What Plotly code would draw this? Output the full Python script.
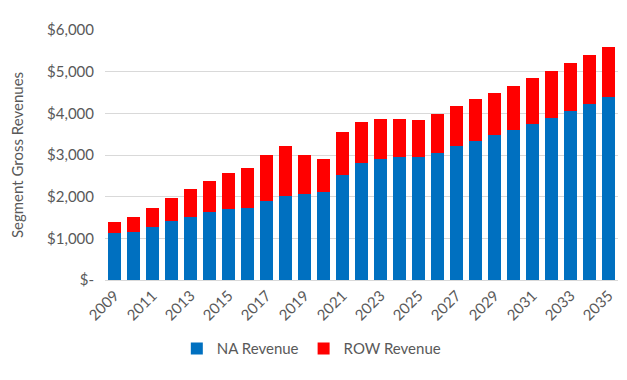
import plotly.graph_objects as go

years = list(range(2009, 2036))
na_revenue = [1118, 1149, 1270, 1422, 1511, 1624, 1704, 1735, 1896, 2024, 2072, 2120, 2523, 2819,
              2908, 2948, 2948, 3053, 3205, 3335, 3470, 3600, 3752, 3896, 4048, 4217, 4395]
total_revenue = [1383, 1511, 1728, 1961, 2178, 2386, 2571, 2692, 3012, 3214, 3012, 2908, 3559, 3793,
                 3872, 3855, 3831, 3976, 4178, 4354, 4499, 4667, 4843, 5020, 5213, 5398, 5590]
row_revenue = [t - n for t, n in zip(total_revenue, na_revenue)]

y_ticks = [0, 1000, 2000, 3000, 4000, 5000, 6000]
y_tick_text = ["$-", "$1,000", "$2,000", "$3,000", "$4,000", "$5,000", "$6,000"]
x_ticks = list(range(2009, 2036, 2))

font_family = "Lato, 'Liberation Sans', sans-serif"
grey = "#595959"

fig = go.Figure()
fig.add_trace(go.Bar(x=years, y=na_revenue, name="NA Revenue", marker_color="#0070C0",
                     marker_line_width=0))
fig.add_trace(go.Bar(x=years, y=row_revenue, name="ROW Revenue", marker_color="#FF0000",
                     marker_line_width=0))

fig.update_layout(
    barmode="stack",
    bargap=0.35,
    width=627, height=380,
    margin=dict(l=97, r=17, t=22, b=108, autoexpand=False),
    plot_bgcolor="white", paper_bgcolor="white",
    font=dict(family=font_family, color=grey, size=15),
    showlegend=True,
    legend=dict(orientation="h", x=0.14, xanchor="left",
                y=-0.275, yanchor="middle", font=dict(size=15), traceorder="normal",
                itemwidth=30),
    xaxis=dict(tickmode="array", tickvals=x_ticks, ticktext=[str(v) for v in x_ticks],
               tickangle=-45, range=[2008.5, 2035.5], showgrid=False,
               showline=True, linecolor="#d9d9d9", ticks="", automargin=False),
    yaxis=dict(tickmode="array", tickvals=y_ticks, ticktext=y_tick_text, range=[0, 6000],
               showgrid=True, gridcolor="#d9d9d9", gridwidth=1, zeroline=False,
               title=dict(text="Segment Gross Revenues", font=dict(size=15), standoff=22),
               ticks="", ticklabelstandoff=10, automargin=False),
)

fig.write_html("out.html")
